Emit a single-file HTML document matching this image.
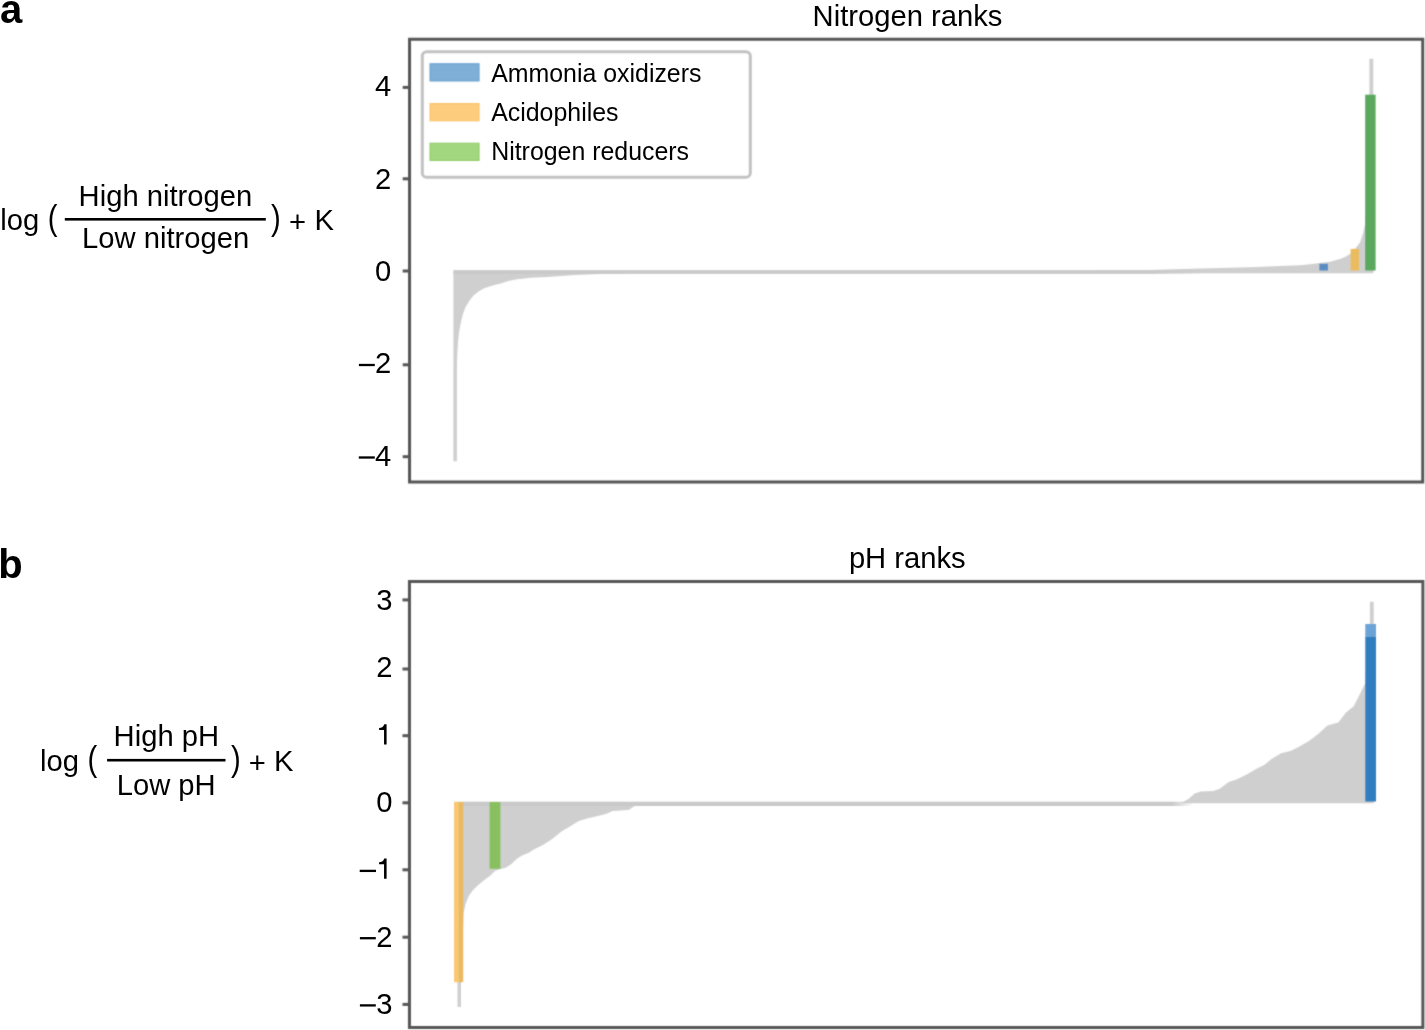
<!DOCTYPE html>
<html><head><meta charset="utf-8"><title>Nitrogen and pH ranks</title>
<style>html,body{margin:0;padding:0;background:#fff;overflow:hidden}svg{display:block}text{font-family:"Liberation Sans",sans-serif;fill:#000}.t{font-size:29.2px}.l{font-size:24.9px}.bd{font-weight:bold;font-size:40px}</style>
</head><body>
<svg width="1425" height="1030" viewBox="0 0 1425 1030">
<defs><filter id="bl" x="0" y="0" width="1425" height="1030" filterUnits="userSpaceOnUse" color-interpolation-filters="sRGB"><feConvolveMatrix order="5" kernelMatrix="0.00001 0.00042 0.00170 0.00042 0.00001 0.00042 0.02740 0.10988 0.02740 0.00042 0.00170 0.10988 0.44065 0.10988 0.00170 0.00042 0.02740 0.10988 0.02740 0.00042 0.00001 0.00042 0.00170 0.00042 0.00001" divisor="1" edgeMode="none"/></filter><filter id="gt" x="0" y="0" width="1425" height="1030" filterUnits="userSpaceOnUse"><feOffset dx="0" dy="0"/></filter><linearGradient id="fadeT" gradientUnits="userSpaceOnUse" x1="1150" y1="0" x2="1205" y2="0"><stop offset="0" stop-color="#c9c9c9"/><stop offset="1" stop-color="#c9c9c9" stop-opacity="0"/></linearGradient><linearGradient id="fadeB" gradientUnits="userSpaceOnUse" x1="1172" y1="0" x2="1193" y2="0"><stop offset="0" stop-color="#c9c9c9"/><stop offset="1" stop-color="#c9c9c9" stop-opacity="0"/></linearGradient></defs>
<rect width="1425" height="1030" fill="#fff"/>
<g filter="url(#bl)">
<rect width="1425" height="1030" fill="#fff"/>
<path d="M453.4,272.0 L453.4,461.3 L456.9,461.3 L456.9,370.0 L457.0,363.0 L457.2,356.0 L457.6,349.0 L458.0,342.0 L458.7,335.0 L459.8,328.0 L461.2,321.0 L462.9,314.0 L465.6,307.0 L469.6,300.5 L473.5,295.6 L479.2,291.1 L484.2,288.3 L494.3,284.9 L499.9,283.8 L508.4,281.0 L516.8,279.3 L522.4,278.7 L530.0,277.8 L547.5,276.9 L575.0,275.1 L600.0,274.1 L625.0,273.5 L640.0,272.0 Z M1080,273.2 L1080.0,272.0 L1100.0,270.6 L1150.0,270.0 L1200.0,268.6 L1250.0,267.2 L1300.0,265.3 L1310.0,264.2 L1320.0,262.9 L1330.0,261.8 L1340.0,259.1 L1345.0,257.0 L1350.0,254.0 L1355.0,249.0 L1360.0,242.4 L1363.0,233.6 L1365.0,224.6 L1366.5,200.0 L1367,150 L1369.4,150 L1369.4,58.7 L1373.3,58.7 L1373.3,273.2 Z" fill="#cfcfcf"/>
<rect x="453.4" y="270.1" width="751.6" height="3.8" fill="url(#fadeT)"/>
<rect x="1319.4" y="263.8" width="8.5" height="6.7" fill="#588cc3"/>
<rect x="1350.6" y="248.9" width="8.5" height="21.6" fill="#ebbc5f"/>
<rect x="1365.2" y="94.7" width="10.4" height="175.8" fill="#59a85e"/>
<rect x="422.3" y="51.7" width="328.0" height="125.5" rx="4.3" ry="4.3" fill="#fff" stroke="#c2c2c2" stroke-width="3.0"/>
<rect x="430.1" y="63.8" width="48.9" height="17.1" fill="#7faed6" stroke="#6ca3d1" stroke-width="1.2"/>
<rect x="430.1" y="103.6" width="48.9" height="17.1" fill="#fdcc7d" stroke="#fdc46a" stroke-width="1.2"/>
<rect x="430.1" y="143.3" width="48.9" height="17.1" fill="#a2d780" stroke="#92cc6a" stroke-width="1.2"/>
<path d="M409.55,39.35 H1422.75 V482.00 H409.55 Z" fill="none" stroke="#555555" stroke-width="3.0" stroke-linejoin="miter"/>
<line x1="402.7" y1="87.4" x2="409.6" y2="87.4" stroke="#555555" stroke-width="3.0"/>
<line x1="402.7" y1="178.8" x2="409.6" y2="178.8" stroke="#555555" stroke-width="3.0"/>
<line x1="402.7" y1="271.0" x2="409.6" y2="271.0" stroke="#555555" stroke-width="3.0"/>
<line x1="402.7" y1="364.8" x2="409.6" y2="364.8" stroke="#555555" stroke-width="3.0"/>
<line x1="402.7" y1="456.7" x2="409.6" y2="456.7" stroke="#555555" stroke-width="3.0"/>
<path d="M454,803.85 L454,982 L457.5,982 L457.5,1007 L461,1007 L461,982 L463.0,930.0 L463.6,913.2 L465.6,903.7 L469.0,895.5 L473.1,890.1 L478.5,884.7 L485.3,879.2 L490.8,875.2 L494.8,871.1 L500.5,869.0 L505.7,867.7 L511.1,864.3 L516.6,858.9 L522.0,855.5 L528.8,852.7 L534.2,849.3 L542.4,845.3 L550.0,840.5 L553.4,838.0 L561.8,831.2 L570.3,826.2 L578.7,821.1 L587.1,818.6 L595.5,816.5 L604.0,814.4 L609.0,812.7 L612.4,811.0 L620.8,810.6 L629.2,809.7 L633.4,806.8 L636.0,805.3 L645.0,803.9 Z M1175,803.3 L1175.0,803.9 L1182.4,802.2 L1188.5,798.9 L1194.7,793.5 L1200.9,791.5 L1213.2,790.9 L1219.4,788.9 L1228.7,781.9 L1236.4,779.6 L1247.2,774.2 L1256.5,768.8 L1264.2,764.9 L1271.9,758.7 L1281.2,753.3 L1290.4,751.0 L1298.1,747.2 L1309.0,741.0 L1318.2,734.0 L1327.5,725.5 L1338.3,722.5 L1346.0,712.4 L1353.7,706.2 L1359.9,693.9 L1365.3,683.1 L1366.5,660.0 L1367,640 L1369.9,640 L1369.9,601.8 L1373.7,601.8 L1373.7,803.3 Z" fill="#cfcfcf"/>
<rect x="454.0" y="801.7" width="739.0" height="4.3" fill="url(#fadeB)"/>
<rect x="454.1" y="802.0" width="4.6" height="180.2" fill="#fcc86e"/>
<rect x="458.7" y="802.0" width="4.5" height="180.2" fill="#eab960"/>
<rect x="489.6" y="802.0" width="10.8" height="66.8" fill="#88c060"/>
<rect x="1365.3" y="624.0" width="10.7" height="12.5" fill="#6ca3d6"/>
<rect x="1365.3" y="636.5" width="10.7" height="165.0" fill="#2f7dbf"/>
<path d="M409.45,581.60 H1422.90 V1027.45 H409.45 Z" fill="none" stroke="#555555" stroke-width="3.0" stroke-linejoin="miter"/>
<line x1="402.5" y1="599.9" x2="409.5" y2="599.9" stroke="#555555" stroke-width="3.0"/>
<line x1="402.5" y1="669.0" x2="409.5" y2="669.0" stroke="#555555" stroke-width="3.0"/>
<line x1="402.5" y1="735.7" x2="409.5" y2="735.7" stroke="#555555" stroke-width="3.0"/>
<line x1="402.5" y1="802.8" x2="409.5" y2="802.8" stroke="#555555" stroke-width="3.0"/>
<line x1="402.5" y1="869.8" x2="409.5" y2="869.8" stroke="#555555" stroke-width="3.0"/>
<line x1="402.5" y1="937.2" x2="409.5" y2="937.2" stroke="#555555" stroke-width="3.0"/>
<line x1="402.5" y1="1004.4" x2="409.5" y2="1004.4" stroke="#555555" stroke-width="3.0"/>
</g>
<g filter="url(#gt)">
<text class="bd" x="0" y="22.5">a</text>
<text class="bd" x="-1.8" y="578.4">b</text>
<text class="t" x="812.6" y="25.8">Nitrogen ranks</text>
<text class="t" x="848.9" y="567.9">pH ranks</text>
<text class="t" x="0.2" y="229.6">log</text>
<text class="t" transform="translate(47.8,229.8) scale(1,1.17)">(</text>
<text class="t" x="78.6" y="205.9">High nitrogen</text>
<rect x="64.8" y="218.00" width="201.0" height="2.6" fill="#000"/>
<text class="t" x="82.1" y="247.8">Low nitrogen</text>
<text class="t" transform="translate(271.0,229.8) scale(1,1.17)">)</text>
<text class="t" x="289.0" y="232.2">+</text>
<text class="t" x="314.5" y="229.6">K</text>
<text class="t" x="40.0" y="770.8">log</text>
<text class="t" transform="translate(87.6,771.0) scale(1,1.17)">(</text>
<text class="t" x="113.6" y="746.4">High pH</text>
<rect x="107.1" y="758.90" width="118.4" height="2.6" fill="#000"/>
<text class="t" x="116.7" y="795.0">Low pH</text>
<text class="t" transform="translate(231.0,771.0) scale(1,1.17)">)</text>
<text class="t" x="248.8" y="773.4">+</text>
<text class="t" x="274.0" y="770.8">K</text>
<text class="l" x="491.2" y="82.0">Ammonia oxidizers</text>
<text class="l" x="491.2" y="121.0">Acidophiles</text>
<text class="l" x="491.2" y="160.0">Nitrogen reducers</text>
<text class="t" x="391.3" y="95.8" text-anchor="end">4</text>
<text class="t" x="391.3" y="188.7" text-anchor="end">2</text>
<text class="t" x="391.3" y="280.6" text-anchor="end">0</text>
<text class="t" x="391.3" y="373.0" text-anchor="end">2</text>
<rect x="358.9" y="363.85" width="15.9" height="2.3" fill="#000"/>
<text class="t" x="391.3" y="465.6" text-anchor="end">4</text>
<rect x="358.8" y="456.35" width="16.0" height="2.3" fill="#000"/>
<text class="t" x="392.4" y="610.2" text-anchor="end">3</text>
<text class="t" x="392.4" y="677.0" text-anchor="end">2</text>
<path transform="translate(386.60,744.50)" d="M0,-20.2 V0 H-2.55 V-14.6 H-7.5 V-16.5 C-5.3,-16.5 -3.1,-17.4 -2.3,-20.2 Z" fill="#000"/>
<text class="t" x="392.4" y="811.9" text-anchor="end">0</text>
<path transform="translate(386.60,878.80)" d="M0,-20.2 V0 H-2.55 V-14.6 H-7.5 V-16.5 C-5.3,-16.5 -3.1,-17.4 -2.3,-20.2 Z" fill="#000"/>
<rect x="359.7" y="869.75" width="16.3" height="2.3" fill="#000"/>
<text class="t" x="392.4" y="946.6" text-anchor="end">2</text>
<rect x="359.9" y="937.05" width="15.9" height="2.3" fill="#000"/>
<text class="t" x="392.4" y="1013.6" text-anchor="end">3</text>
<rect x="359.9" y="1004.25" width="15.9" height="2.3" fill="#000"/>
</g>
</svg>
</body></html>
